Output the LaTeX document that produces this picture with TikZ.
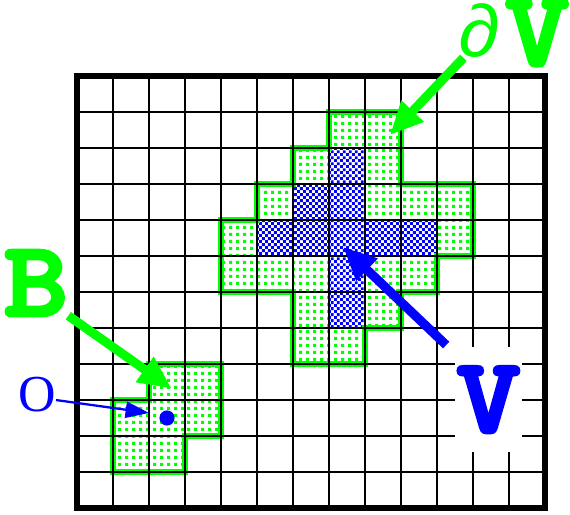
\documentclass[tikz,border=0pt]{standalone}
\usepackage{fontspec}
\usepackage{tikz}
\usetikzlibrary{arrows.meta,patterns}

\newfontfamily\monofont{Liberation Mono}
\newfontfamily\seriffont{Liberation Serif}
\newfontfamily\slabfont{lmmonolt10-bold.otf}[FakeBold=3.5,FakeStretch=1.15]

% Motivi delle celle
\pgfdeclarepatternformonly{cellDots}{\pgfpointorigin}{\pgfqpoint{5.5pt}{5.5pt}}{\pgfqpoint{5.5pt}{5.5pt}}{%
  \pgfpathrectangle{\pgfpointorigin}{\pgfqpoint{2.5pt}{2.5pt}}\pgfusepath{fill}}
\pgfdeclarepatternformonly{cellChecker}{\pgfpointorigin}{\pgfqpoint{5pt}{5pt}}{\pgfqpoint{5pt}{5pt}}{%
  \pgfpathrectangle{\pgfpointorigin}{\pgfqpoint{2.5pt}{2.5pt}}%
  \pgfpathrectangle{\pgfqpoint{2.5pt}{2.5pt}}{\pgfqpoint{2.5pt}{2.5pt}}\pgfusepath{fill}}

\begin{document}
\begin{tikzpicture}[
  bigArrow/.style={line width=7.2pt, -{Triangle[length=0.92cm,width=0.8cm]}},
  thinArrow/.style={line width=1.8pt, -{Triangle[length=0.65cm,width=0.45cm]}},
  bigLabel/.style={inner sep=0, font=\slabfont\fontsize{84}{84}\selectfont}
]

% Colori
\definecolor{colEdge}{HTML}{00FF00}
\definecolor{colSet}{HTML}{0000FF}

\useasboundingbox (-2.139,-0.167) rectangle (13.694,14.111);

% Celle di bordo (puntinate)
\foreach \i/\j in {7/10,8/10,6/9,8/9,5/8,8/8,9/8,10/8,4/7,10/7,4/6,5/6,6/6,8/6,9/6,6/5,8/5,6/4,7/4,
                   2/3,3/3,1/2,2/2,3/2,1/1,2/1}
  \fill[pattern=cellDots, pattern color=colEdge] (\i,\j) rectangle ++(1,1);

% Celle interne (scacchiera)
\foreach \i/\j in {7/9,6/8,7/8,5/7,6/7,7/7,8/7,9/7,7/6,7/5}
  \fill[pattern=cellChecker, pattern color=colSet] (\i,\j) rectangle ++(1,1);

% Contorni verdi
\draw[colEdge, line width=4.8pt] (7,11) -- (9,11) -- (9,9) -- (11,9) -- (11,7) -- (10,7) -- (10,6)
  -- (9,6) -- (9,5) -- (8,5) -- (8,4) -- (6,4) -- (6,6) -- (4,6) -- (4,8) -- (5,8) -- (5,9)
  -- (6,9) -- (6,10) -- (7,10) -- cycle;
\draw[colEdge, line width=4.8pt] (2,4) -- (4,4) -- (4,2) -- (3,2) -- (3,1) -- (1,1) -- (1,3) -- (2,3) -- cycle;

% Griglia
\draw[black, line width=2.3pt] (0,0) grid (13,12);
\draw[black, line width=4.7pt] (0,0) rectangle (13,12);

% Punto O
\node[circle, fill=colSet, inner sep=0, minimum size=0.42cm] (ptO) at (2.5,2.5) {};

% Etichette
\node[bigLabel, text=colEdge] (labB) at (-1.139,6.25) {B};
\node[inner sep=0, font=\seriffont\fontsize{41}{41}\selectfont, text=colSet] (labO) at (-1.11,3.14) {O};
\node[inner sep=0, font=\monofont\fontsize{58}{58}\selectfont, text=colEdge] (labDel) at (11.17,13.26) {∂};
\node[bigLabel, text=colEdge] (labDV) at (12.78,13.2) {V};
\node[bigLabel, fill=white, minimum width=1.86cm, minimum height=2.92cm, text=colSet] (labV) at (11.43,3.01) {V};

% Frecce
\coordinate (tipB) at (2.63,3.32);
\coordinate (tipO) at (2.0,2.64);
\coordinate (tipDV) at (8.69,10.36);
\coordinate (tipV) at (7.39,7.25);

\draw[bigArrow, colEdge] (labB.south east) -- (tipB);
\draw[thinArrow, colSet] (labO.-15) -- (tipO);
\draw[bigArrow, colEdge] (labDel.-120) -- (tipDV);
\draw[bigArrow, colSet, shorten <=0.33cm] (labV.126) -- (tipV);

\end{tikzpicture}
\end{document}
